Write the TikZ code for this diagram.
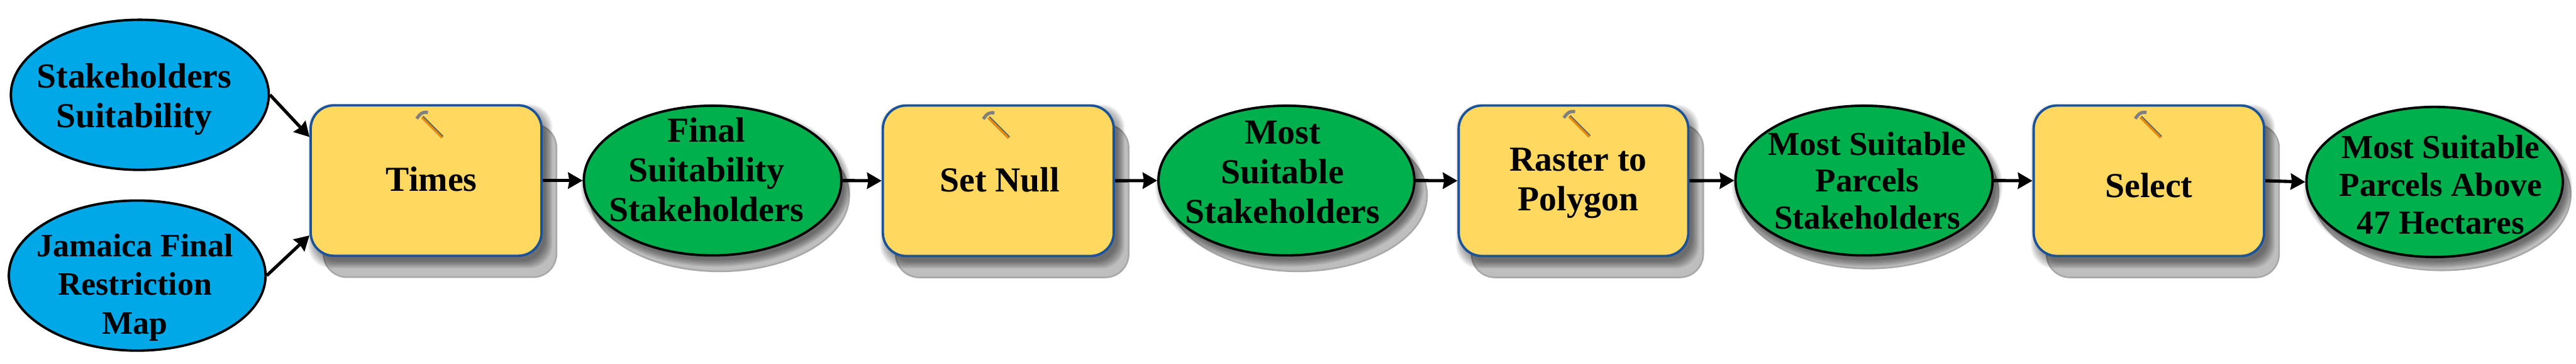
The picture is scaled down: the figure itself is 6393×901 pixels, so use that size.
\documentclass[tikz,border=0pt]{standalone}
\usepackage{fontspec}
\setmainfont{Liberation Serif}
\usetikzlibrary{arrows.meta,shapes.geometric,calc}
\definecolor{skyfill}{HTML}{00A8E8}
\definecolor{greenfill}{HTML}{00B04C}
\definecolor{boxfill}{HTML}{FFD95F}
\definecolor{boxline}{HTML}{1B539B}
\definecolor{castfill}{HTML}{BEBEBE}
\definecolor{castline}{HTML}{A8A8A8}
\definecolor{hammerhead}{HTML}{7F7F7F}
\definecolor{hammerwood}{HTML}{F08C00}
\definecolor{hammeredge}{HTML}{5F6670}
\tikzset{
  x=1pt,y=-1pt,
  oval/.style={ellipse,draw=black,line width=6pt,inner sep=0pt},
  skyoval/.style={oval,fill=skyfill},
  greenoval/.style={oval,fill=greenfill},
  toolbox/.style={rectangle,draw=boxline,fill=boxfill,line width=6pt,rounded corners=58pt,inner sep=0pt},
  label text/.style 2 args={anchor=base,inner sep=0pt,align=center,font=\bfseries\fontsize{#1}{#2}\selectfont},
  flow/.style={draw=black,line width=8pt,-{Stealth[inset=3pt,length=36pt,width=40pt]}},
  softlayer/.style={fill=black,fill opacity=0.05},
  castshape/.style={fill=castfill,draw=castline,line width=4pt},
  hammer/.pic={
    \draw[hammeredge,line width=8pt] (0,0) -- (50,50);
    \draw[hammerwood,line width=4.5pt] (-1,1) -- (49,51);
    \draw[hammerhead,line width=8pt] (-14,4) -- (-6,-6) .. controls (-1,-11) and (7,-13) .. (14,-11);
  }
}
% box shadow: cx, cy, w, h
\newcommand{\boxcast}[4]{%
  \draw[castshape,rounded corners=58pt] ({#1-#3/2+35},{#2-#4/2+50}) rectangle ({#1+#3/2+34},{#2+#4/2+50});
  \foreach \g in {14,12,...,-4}{
    \fill[softlayer,rounded corners=58pt] ({#1-#3/2+10-\g},{#2-#4/2+14-\g}) rectangle ({#1+#3/2+10+\g},{#2+#4/2+14+\g});
  }%
}
% oval shadow: cx, cy, rx, ry, dx, dy
\newcommand{\ovalcast}[6]{%
  \draw[castshape] ({#1+#5},{#2+#6}) ellipse [x radius=#3,y radius=#4];
  \foreach \g in {14,12,...,-4}{
    \fill[softlayer] ({#1+8},{#2+12}) ellipse [x radius={#3+\g},y radius={#4+\g}];
  }%
}
\begin{document}
\begin{tikzpicture}
\useasboundingbox (0,0) rectangle (6393,901);
% shadows
\boxcast{1057.5}{447.5}{579}{379}
\boxcast{2477.5}{448}{579}{379}
\boxcast{3905}{448}{576}{379}
\boxcast{5333}{448}{578}{379}
\ovalcast{1768.5}{447.5}{322}{188}{17}{37}
\ovalcast{3192.5}{447.5}{320}{188}{29}{37}
\ovalcast{4626}{447.5}{322}{188}{12}{30}
\ovalcast{6042}{451}{320}{188}{18}{31}
% shapes
\node[skyoval,minimum width=640pt,minimum height=372pt] (src1) at (347,235) {};
\node[skyoval,minimum width=637pt,minimum height=372pt] (src2) at (340.5,683) {};
\node[toolbox,minimum width=573pt,minimum height=373pt] (times) at (1057.5,447.5) {};
\node[greenoval,minimum width=639pt,minimum height=371pt] (out1) at (1768.5,447.5) {};
\node[toolbox,minimum width=573pt,minimum height=373pt] (setnull) at (2477.5,448) {};
\node[greenoval,minimum width=635pt,minimum height=371pt] (out2) at (3192.5,447.5) {};
\node[toolbox,minimum width=570pt,minimum height=373pt] (raster) at (3905,448) {};
\node[greenoval,minimum width=638pt,minimum height=371pt] (out3) at (4626,447.5) {};
\node[toolbox,minimum width=572pt,minimum height=373pt] (select) at (5333,448) {};
\node[greenoval,minimum width=636pt,minimum height=372pt] (out4) at (6042,451) {};
% hammers
\pic at (1048,290) {hammer};
\pic at (2454,291) {hammer};
\pic at (3895,288) {hammer};
\pic at (5313,290) {hammer};
% connectors
\coordinate (timesin1) at ($(times.west)+(0,-108)$);
\coordinate (timesin2) at ($(times.west)+(0,136)$);
\draw[flow] (src1.east) -- (timesin1);
\draw[flow] (src2.east) -- (timesin2);
\draw[flow] (times.east) -- (out1.west);
\draw[flow] (out1.east) -- (setnull.west);
\draw[flow] (setnull.east) -- (out2.west);
\draw[flow] (out2.east) -- (raster.west);
\draw[flow] (raster.east) -- (out3.west);
\draw[flow] (out3.east) -- (select.west);
\draw[flow] (select.east) -- (out4.west);
% labels
\node[label text={87}{98}] (l1) at (333,316) {Stakeholders\\Suitability};
\node[label text={81}{96}] (l2) at (335,828) {Jamaica Final\\Restriction\\Map};
\node[label text={87}{98}] (l3) at (1071,473) {Times};
\node[label text={87}{98}] (l4) at (1753,548) {Final\\Suitability\\Stakeholders};
\node[label text={87}{98}] (l5) at (2481,475) {Set Null};
\node[label text={87}{98}] (l6) at (3183,553) {Most\\Suitable\\Stakeholders};
\node[label text={87}{98}] (l7) at (3917,522) {Raster to\\Polygon};
\node[label text={83}{92}] (l8) at (4634,568) {Most Suitable\\Parcels\\Stakeholders};
\node[label text={87}{98}] (l9) at (5333,489) {Select};
\node[label text={83}{94}] (l10) at (6057,580) {Most Suitable\\Parcels Above\\47 Hectares};
\end{tikzpicture}
\end{document}
